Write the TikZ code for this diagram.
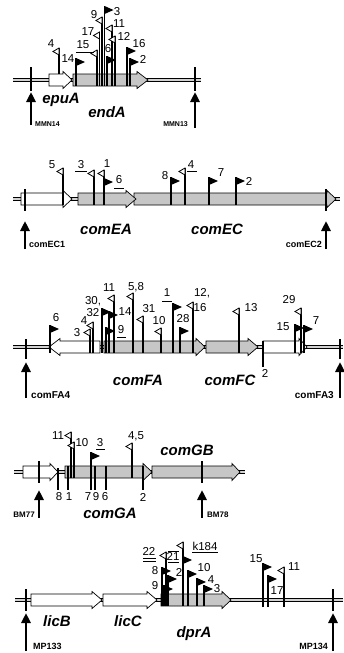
\documentclass[tikz,border=0pt]{standalone}
\usepackage{fontspec}
\setmainfont{Liberation Sans}
\usetikzlibrary{arrows.meta}

\begin{document}
\begin{tikzpicture}[
  x=1pt, y=-1pt,
  backbone/.style={double=gray!35, double distance=2.2pt, line width=0.6pt},
  gene/.style={draw, line width=0.7pt, fill=gray!45},
  wgene/.style={draw, line width=0.7pt, fill=white},
  pole/.style={line width=1.3pt},
  uline/.style={line width=0.8pt},
  cut/.style={line width=2.4pt},
  primer/.style={line width=2.6pt, -{Triangle[length=10pt, width=9pt]}},
  num/.style={inner sep=0pt, font=\fontsize{11.5}{12}\selectfont},
  gname/.style={inner sep=0pt, font=\fontsize{15}{16}\selectfont\bfseries\itshape},
  plabel/.style={inner sep=0pt, font=\fontsize{#1}{#1}\selectfont\bfseries},
  fflag/.pic={\fill (0,0) -- (9,4) -- (0,8) -- cycle;},
  oflag/.pic={\draw[fill=white, line width=0.8pt] (0,0) -- (-6,3.5) -- (0,7) -- cycle;}
]
\useasboundingbox (0,0) rectangle (343,653);

% epuA / endA
\draw[backbone] (13,80) -- (201,80);
\draw[wgene] (49,74) -- (63,74) -- (63,71.5) -- (72,80) -- (63,88.5) -- (63,86) -- (49,86) -- cycle;
\draw[gene] (73,74) -- (137,74) -- (137,71.5) -- (148,80) -- (137,88.5) -- (137,86) -- (73,86) -- cycle;
\draw[cut] (31,67) -- (31,91);
\draw[cut] (195,67) -- (195,91);
\draw[primer] (31,125) -- (31,92);
\draw[primer] (195,128) -- (195,92);
\node[plabel=7, anchor=west] (MMN14) at (35,124.5) {MMN14};
\node[plabel=7, anchor=east] (MMN13) at (188,124.5) {MMN13};
\node[gname] (epuA) at (61,100) {epuA};
\node[gname] (endA) at (107,112) {endA};

\draw[pole] (59,74) -- (59,48) pic{oflag};
\node[num] (a4) at (51,44) {4};
\draw[pole] (76,86) -- (76,58) pic{fflag};
\node[num] (a14) at (68,59) {14};
\draw[pole] (97,86) -- (97,50) pic{oflag};
\node[num] (a15) at (83,45) {15};
\draw[uline] (76,52) -- (94,52);
\draw[pole] (99.5,86) -- (99.5,32) pic{oflag};
\node[num] (a17) at (88,32) {17};
\draw[pole] (102,86) -- (102,17) pic{oflag};
\node[num] (a9) at (94,15) {9};
\draw[pole] (104.5,86) -- (104.5,6) pic{fflag};
\node[num] (a3) at (117,12) {3};
\draw[pole] (107,86) -- (107,56) pic{fflag};
\node[num] (a6) at (108,49) {6};
\draw[pole] (112,86) -- (112,25) pic{oflag};
\node[num] (a11) at (119,24) {11};
\draw[pole] (115,86) -- (115,36) pic{oflag};
\node[num] (a12) at (124,36) {12};
\draw[pole] (127,86) -- (127,47) pic{fflag};
\node[num] (a16) at (139,44) {16};
\draw[pole] (130,86) -- (130,58) pic{fflag};
\node[num] (a2) at (143,59) {2};

% comEA / comEC
\draw[backbone] (13,199) -- (340,199);
\draw[wgene] (21,193) -- (63,193) -- (63,190.5) -- (72,199) -- (63,207.5) -- (63,205) -- (21,205) -- cycle;
\draw[gene] (134,193) -- (327,193) -- (327,190.5) -- (336,199) -- (327,207.5) -- (327,205) -- (134,205) -- cycle;
\draw[gene] (78,193) -- (126,193) -- (126,190.5) -- (136,199) -- (126,207.5) -- (126,205) -- (78,205) -- cycle;
\draw[cut] (25,189) -- (25,211);
\draw[cut] (326,189) -- (326,211);
\draw[primer] (25,249) -- (25,221);
\draw[primer] (326,249) -- (326,221);
\node[plabel=9, anchor=west] (comEC1) at (29,244) {comEC1};
\node[plabel=9, anchor=east] (comEC2) at (322,244) {comEC2};
\node[gname] (comEA) at (106,229) {comEA};
\node[gname] (comEC) at (217,229) {comEC};

\draw[pole] (63,205) -- (63,168) pic{oflag};
\node[num] (b5) at (52,165) {5};
\draw[pole] (94,205) -- (94,170) pic{oflag};
\node[num] (b3) at (81,165) {3};
\draw[uline] (75,171) -- (87,171);
\draw[pole] (104,205) -- (104,170) pic{oflag} (104,178) pic{fflag};
\node[num] (b1) at (107,164) {1};
\node[num] (b6) at (119,180) {6};
\draw[uline] (114,188) -- (124,188);
\draw[pole] (171,205) -- (171,177) pic{fflag};
\node[num] (b8) at (165,176) {8};
\draw[pole] (185,205) -- (185,168) pic{oflag};
\node[num] (b4) at (191,165) {4};
\draw[uline] (187,171) -- (197,171);
\draw[pole] (209,205) -- (209,177) pic{fflag};
\node[num] (b7) at (221,173) {7};
\draw[pole] (236,205) -- (236,177) pic{fflag};
\node[num] (b2) at (249,181) {2};

% comFA / comFC
\draw[backbone] (13,347) -- (343,347);
\draw[wgene] (100,341) -- (60,341) -- (60,338.5) -- (49,347) -- (60,355.5) -- (60,353) -- (100,353) -- cycle;
\draw[gene] (104,341) -- (196,341) -- (196,338.5) -- (205,347) -- (196,355.5) -- (196,353) -- (104,353) -- cycle;
\draw[gene] (206,341) -- (248,341) -- (248,338.5) -- (258,347) -- (248,355.5) -- (248,353) -- (206,353) -- cycle;
\draw[wgene] (263,341) -- (299,341) -- (299,338.5) -- (307,347) -- (299,355.5) -- (299,353) -- (263,353) -- cycle;
\draw[pole] (263,341) -- (263,367);
\node[num] (c2) at (265,373) {2};
\draw[cut] (26,339) -- (26,359);
\draw[cut] (340,339) -- (340,359);
\draw[primer] (26,398) -- (26,362);
\draw[primer] (340,398) -- (340,362);
\node[plabel=10, anchor=west] (comFA4) at (31,395) {comFA4};
\node[plabel=10, anchor=east] (comFA3) at (334,395) {comFA3};
\node[gname] (comFA) at (138,380) {comFA};
\node[gname] (comFC) at (230,380) {comFC};

\draw[pole] (50,353) -- (50,325) pic{fflag};
\node[num] (c6) at (56,318) {6};
\draw[pole] (90,353) -- (90,329) pic{oflag};
\node[num] (c3) at (77,333) {3};
\draw[pole] (93,353) -- (93,322) pic{oflag};
\node[num] (c4) at (84,321) {4};
\draw[pole] (102,353) -- (102,308) pic{fflag};
\node[num] (c30) at (93,301) {30,};
\node[num] (c32) at (93,313) {32};
\draw[pole] (106,353) -- (106,327) pic{fflag};
\node[num] (c9) at (121,330) {9};
\draw[uline] (117,337) -- (126,337);
\draw[pole] (109,353) -- (109,311) pic{fflag};
\node[num] (c14) at (125,312) {14};
\draw[pole] (114,353) -- (114,295) pic{oflag};
\node[num] (c11) at (109,288) {11};
\draw[pole] (133,353) -- (133,293) pic{oflag};
\node[num] (c58) at (136,287) {5,8};
\draw[pole] (143,353) -- (143,316) pic{oflag};
\node[num] (c31) at (149,309) {31};
\draw[pole] (161,353) -- (161,328) pic{oflag};
\node[num] (c10) at (159,321) {10};
\draw[pole] (173,353) -- (173,303) pic{fflag};
\node[num] (c1) at (167,293) {1};
\draw[uline] (162,301) -- (172,301);
\draw[pole] (180,353) -- (180,327) pic{fflag};
\node[num] (c28) at (183,319) {28};
\draw[pole] (193,353) -- (193,302) pic{oflag};
\node[num] (c12) at (202,293) {12,};
\node[num] (c16) at (200,308) {16};
\draw[pole] (239,353) -- (239,308) pic{oflag};
\node[num] (c13) at (251,308) {13};
\draw[pole] (295,353) -- (295,324) pic{fflag};
\node[num] (c15) at (283,327) {15};
\draw[pole] (301,353) -- (301,308) pic{oflag};
\node[num] (c29) at (289,300) {29};
\draw[pole] (304,353) -- (304,325) pic{fflag};
\node[num] (c7) at (316,321) {7};

% comGA / comGB
\draw[backbone] (14,472) -- (245,472);
\draw[wgene] (23,466) -- (50,466) -- (50,463.5) -- (58,472) -- (50,480.5) -- (50,478) -- (23,478) -- cycle;
\draw[gene] (152,466) -- (232,466) -- (232,463.5) -- (240,472) -- (232,480.5) -- (232,478) -- (152,478) -- cycle;
\draw[gene] (65,466) -- (143,466) -- (143,463.5) -- (152,472) -- (143,480.5) -- (143,478) -- (65,478) -- cycle;
\draw[cut] (39,461) -- (39,483);
\draw[cut] (202,461) -- (202,483);
\draw[primer] (39,518) -- (39,490);
\draw[primer] (202,518) -- (202,490);
\node[plabel=8, anchor=east] (BM77) at (35,515) {BM77};
\node[plabel=8, anchor=west] (BM78) at (207,515) {BM78};
\node[gname] (comGA) at (110,513) {comGA};
\node[gname] (comGB) at (187,450) {comGB};

\draw[pole] (58,468) -- (58,490);
\node[num] (d8) at (59,497) {8};
\draw[pole] (68,466) -- (68,490);
\node[num] (d1) at (69,497) {1};
\draw[pole] (91,466) -- (91,490);
\node[num] (d7) at (88,497) {7};
\draw[pole] (95,466) -- (95,490);
\node[num] (d9) at (96,497) {9};
\draw[pole] (106,466) -- (106,490);
\node[num] (d6) at (105,497) {6};
\draw[pole] (143,466) -- (143,490);
\node[num] (d2) at (143,497) {2};

\draw[pole] (71,478) -- (71,432) pic{oflag};
\node[num] (d11) at (58,436) {11};
\draw[pole] (74,478) -- (74,442) pic{oflag};
\node[num] (d10) at (82,443) {10};
\draw[pole] (91,478) -- (91,452) pic{fflag};
\node[num] (d3) at (100,443) {3};
\draw[uline] (96,449) -- (105,449);
\draw[pole] (132,478) -- (132,443) pic{oflag};
\node[num] (d45) at (136,436) {4,5};

% licB / licC / dprA
\draw[backbone] (15,600) -- (343,600);
\draw[wgene] (31,594) -- (92,594) -- (92,591.5) -- (102,600) -- (92,608.5) -- (92,606) -- (31,606) -- cycle;
\draw[wgene] (103,594) -- (147,594) -- (147,591.5) -- (157,600) -- (147,608.5) -- (147,606) -- (103,606) -- cycle;
\draw[gene] (161,594) -- (222,594) -- (222,591.5) -- (231,600) -- (222,608.5) -- (222,606) -- (161,606) -- cycle;
\draw[cut] (26,589) -- (26,611);
\draw[cut] (333,589) -- (333,611);
\draw[primer] (26,651) -- (26,613);
\draw[primer] (333,651) -- (333,613);
\node[plabel=9, anchor=west] (MP133) at (33,646) {MP133};
\node[plabel=9, anchor=east] (MP134) at (328,646) {MP134};
\node[gname] (licB) at (57,621) {licB};
\node[gname] (licC) at (128,621) {licC};
\node[gname] (dprA) at (194,634) {dprA};

\draw[pole] (162,606) -- (162,567) pic{fflag};
\node[num] (e8) at (155,571) {8};
\draw[pole] (164,606) -- (164,585) pic{fflag};
\node[num] (e9) at (155,586) {9};
\draw[pole] (166,606) -- (166,552) pic{oflag};
\node[num] (e22) at (149,551) {22};
\draw[uline] (143,558) -- (156,558);
\draw[uline] (143,561) -- (156,561);
\draw[pole] (168,606) -- (168,575) pic{fflag};
\node[num] (e2) at (179,572) {2};
\draw[pole] (183,606) -- (183,542) pic{oflag} (183,556) pic{fflag};
\node[num] (e21) at (173,556) {21};
\draw[uline] (168,551) -- (179,551);
\draw[uline] (168,562) -- (179,562);
\node[num] (ek184) at (205,546) {k184};
\draw[uline] (192,552) -- (218,552);
\draw[pole] (188,606) -- (188,570) pic{fflag};
\node[num] (e10) at (204,567.5) {10};
\draw[pole] (197,606) -- (197,578) pic{fflag};
\node[num] (e4) at (211,580) {4};
\draw[pole] (204,606) -- (204,585) pic{fflag};
\node[num] (e3) at (217,589) {3};
\draw[pole] (263,607) -- (263,563) pic{fflag};
\node[num] (e15) at (256,559) {15};
\draw[pole] (268,607) -- (268,575) pic{fflag};
\node[num] (e17) at (277,591) {17};
\draw[pole] (284,607) -- (284,567) pic{oflag};
\node[num] (e11) at (294,567) {11};
\end{tikzpicture}
\end{document}
